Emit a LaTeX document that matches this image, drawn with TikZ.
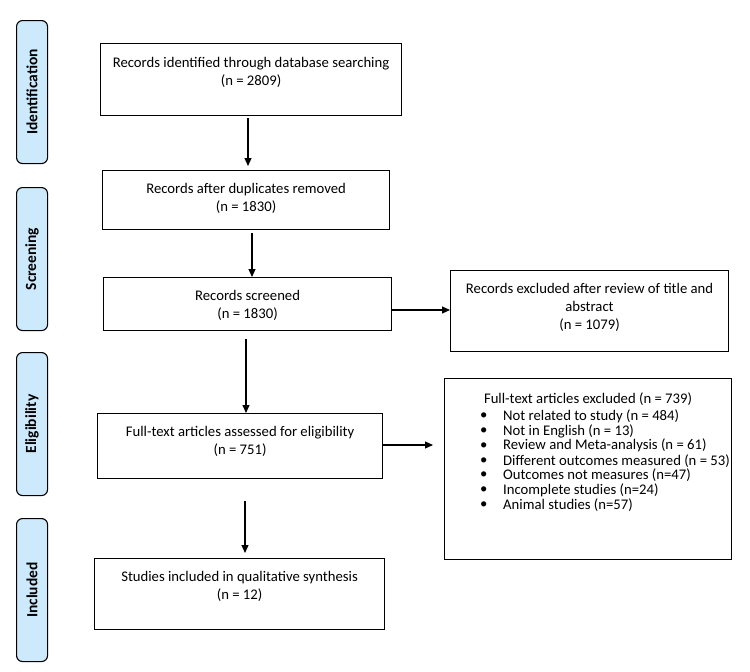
\documentclass[tikz,border=0pt]{standalone}
\usepackage{fontspec}
\setmainfont{Carlito}
\usetikzlibrary{arrows.meta,calc}
\definecolor{phaseblue}{RGB}{204,234,252}
\begin{document}
\begin{tikzpicture}[x=1pt,y=-1pt,
 box/.style={draw, line width=1.1pt, anchor=north west, inner sep=0pt},
 txt/.style={align=center, font=\fontsize{14.7}{18}\selectfont, inner sep=0pt},
 itemtxt/.style={anchor=west, font=\fontsize{14.7}{15}\selectfont, inner sep=0pt},
 phase/.style={draw, line width=1.1pt, fill=phaseblue, rounded corners=6pt, anchor=north west, inner sep=0pt, minimum width=31pt, minimum height=143pt},
 phasetxt/.style={font=\fontsize{15.5}{17}\selectfont\bfseries, rotate=90, inner sep=0pt},
 arr/.style={-{Triangle[length=8pt,width=7pt]}, line width=1.1pt}]
\useasboundingbox (0,0) rectangle (750,672);
% phases
\node[phase] (p1) at (16,20) {};
\node[phasetxt] (p1t) at (p1.center) {Identification};
\node[phase] (p2) at (16,187) {};
\node[phasetxt] (p2t) at (p2.center) {Screening};
\node[phase] (p3) at (16,352) {};
\node[phasetxt] (p3t) at (p3.center) {Eligibility};
\node[phase] (p4) at (16,518) {};
\node[phasetxt] (p4t) at (p4.center) {Included};
% main boxes
\node[box, minimum width=301pt, minimum height=72pt] (b1) at (100,43) {};
\node[txt] (b1t) at ($(b1.north)+(0,29)$) {Records identified through database searching\\(n = 2809)};
\node[box, minimum width=287pt, minimum height=59pt] (b2) at (102,170) {};
\node[txt] (b2t) at ($(b2.north)+(0,28)$) {Records after duplicates removed\\(n = 1830)};
\node[box, minimum width=288pt, minimum height=53pt] (b3) at (103,277) {};
\node[txt] (b3t) at ($(b3.north)+(0,28)$) {Records screened\\(n = 1830)};
\node[box, minimum width=285pt, minimum height=65pt] (b4) at (97,413) {};
\node[txt] (b4t) at ($(b4.north)+(0,28)$) {Full-text articles assessed for eligibility\\(n = 751)};
\node[box, minimum width=290pt, minimum height=71pt] (b5) at (94,558) {};
\node[txt] (b5t) at ($(b5.north)+(0,28)$) {Studies included in qualitative synthesis\\(n = 12)};
% right boxes
\node[box, minimum width=278pt, minimum height=81pt] (r1) at (450,270) {};
\node[txt] (r1t) at ($(r1.north)+(0,37)$) {Records excluded after review of title and\\abstract\\(n = 1079)};
\node[box, minimum width=287pt, minimum height=181pt] (r2) at (444,378) {};
\node[txt] (r2t) at ($(r2.north)+(0,21)$) {Full-text articles excluded (n = 739)};
\foreach \k/\s in {0/{Not related to study (n = 484)},1/{Not in English (n = 13)},2/{Review and Meta-analysis (n = 61)},3/{Different outcomes measured (n = 53)},4/{Outcomes not measures (n=47)},5/{Incomplete studies (n=24)},6/{Animal studies (n=57)}}{
  \node[itemtxt] (bul\k) at ($(r2.north west)+(36,38+14.9*\k)$) {\textbullet};
  \node[itemtxt] (it\k) at ($(r2.north west)+(59,38+14.9*\k)$) {\s};
}
% connectors
\coordinate (xa) at (248,0);
\coordinate (xb) at (252,0);
\coordinate (xc) at (246,0);
\coordinate (xd) at (245,0);
\coordinate (ya) at (0,310);
\coordinate (yb) at (0,445);
\draw[arr, shorten <=2pt, shorten >=4pt] (b1.south -| xa) -- (b2.north -| xa);
\draw[arr, shorten <=3pt] (b2.south -| xb) -- (b3.north -| xb);
\draw[arr, shorten <=8pt] (b3.south -| xc) -- (b4.north -| xc);
\draw[arr, shorten <=22pt, shorten >=5pt] (b4.south -| xd) -- (b5.north -| xd);
\draw[arr] (b3.east |- ya) -- (r1.west |- ya);
\draw[arr, shorten >=11pt] (b4.east |- yb) -- (r2.west |- yb);
\end{tikzpicture}
\end{document}
